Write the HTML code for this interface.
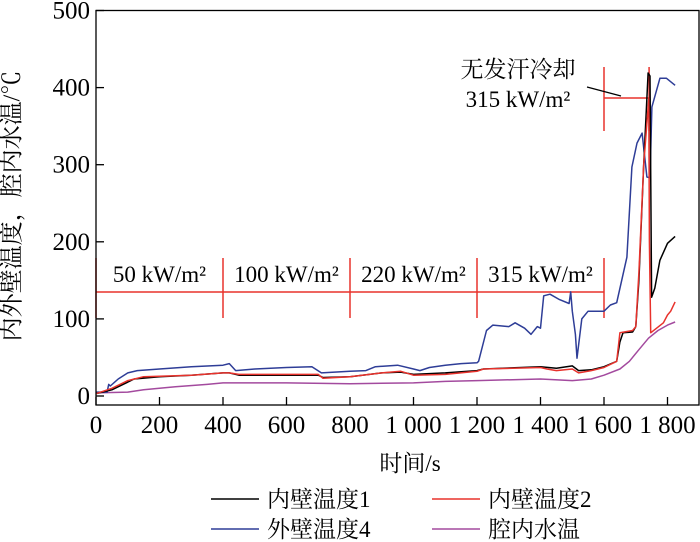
<!DOCTYPE html>
<html><head><meta charset="utf-8"><style>
html,body{margin:0;padding:0;background:#fff;}
svg{display:block;font-family:"Liberation Serif","Noto Serif CJK SC",serif;}
</style></head><body>
<svg id="chart" width="700" height="542" viewBox="0 0 700 542">
<g id="annots"></g>
<g id="series"></g>
<rect x="96" y="10.5" width="603" height="394.5" fill="none" stroke="#000" stroke-width="1.3"/>
<g id="axes"></g>
<text x="14" y="206" transform="rotate(-90 14 206)" text-anchor="middle" dominant-baseline="middle" font-size="24" font-family="'Liberation Serif','Noto Serif CJK SC',serif">内外壁温度，腔内水温/℃</text>
<text x="410" y="471" text-anchor="middle" font-size="23">时间/s</text>
<g>
<g><line x1="211" y1="499" x2="259" y2="499" stroke="#000" stroke-width="1.6"/><text x="267" y="507" font-size="23">内壁温度1</text></g>
<g><line x1="432" y1="499" x2="480" y2="499" stroke="#e8322c" stroke-width="1.6"/><text x="488" y="507" font-size="23">内壁温度2</text></g>
<g><line x1="211" y1="529" x2="259" y2="529" stroke="#2e3d97" stroke-width="1.6"/><text x="267" y="537" font-size="23">外壁温度4</text></g>
<g><line x1="432" y1="529" x2="480" y2="529" stroke="#a34a9e" stroke-width="1.6"/><text x="488" y="537" font-size="23">腔内水温</text></g>
</g>
</svg>
<script>
const xTicks=[0,200,400,600,800,1000,1200,1400,1600,1800];
const xTickLabels=["0","200","400","600","800","1 000","1 200","1 400","1 600","1 800"];
const yTicks=[0,100,200,300,400,500];
const yTickLabels=["0","100","200","300","400","500"];
const tInner1=[0,50,100,120,200,300,400,420,450,700,715,800,900,960,1000,1100,1200,1220,1400,1450,1500,1520,1560,1600,1640,1650,1660,1690,1700,1710,1725,1739,1745,1750,1760,1776,1800,1824];
const vInner1=[3,8,18,22,25,27,30,30,27,27,24,25,30,31,28,30,33,35,38,36,39,33,34,38,45,70,82,83,90,150,300,419,415,128,140,176,198,207];
const tInner2=[0,50,100,150,300,400,420,450,700,715,800,900,960,1000,1100,1200,1220,1400,1420,1450,1500,1520,1560,1600,1640,1650,1690,1700,1710,1725,1741,1743,1747,1787,1800,1810,1824];
const vInner2=[3,10,20,25,27,30,30,28,28,23,25,30,32,27,28,32,35,37,35,33,35,30,33,37,45,82,85,90,160,300,386,200,82,95,105,110,122];
const tOuter4=[0,35,40,45,70,100,130,200,300,400,420,440,500,600,680,710,800,850,880,950,1000,1020,1050,1100,1150,1200,1205,1230,1250,1300,1320,1350,1370,1390,1400,1410,1430,1460,1490,1495,1500,1510,1515,1530,1550,1600,1620,1640,1672,1688,1704,1720,1735,1745,1751,1776,1797,1824];
const vOuter4=[5,5,15,13,22,30,33,35,38,40,42,33,35,37,38,30,32,33,38,40,35,33,37,40,42,43,45,85,92,90,95,88,80,90,88,130,132,125,120,135,110,80,49,100,110,110,118,121,180,297,328,341,284,283,375,412,412,403];
const tWater=[0,100,150,250,350,400,600,800,1000,1100,1200,1400,1500,1560,1600,1650,1680,1710,1740,1770,1800,1824];
const vWater=[4,5,8,12,15,17,17,16,17,19,20,22,20,22,27,35,45,60,75,85,92,96];
const NS="http://www.w3.org/2000/svg";
function X(t){return 96+t*0.3175;}
function Y(v){return 396-v*0.771;}
function mk(tag,attrs,parent){const e=document.createElementNS(NS,tag);for(const k in attrs)e.setAttribute(k,attrs[k]);parent.appendChild(e);return e;}
const axes=document.getElementById('axes');
xTicks.forEach((t,i)=>{
  const l=mk('line',{x1:X(t),x2:X(t),y1:405,y2:397,stroke:'#000','stroke-width':1.3},axes);
  
  
  const tx=mk('text',{x:X(t),y:433,'text-anchor':'middle','font-size':25},axes);
  tx.textContent=xTickLabels[i];
  
  
});
yTicks.forEach((v,i)=>{
  const l=mk('line',{x1:96,x2:104,y1:Y(v),y2:Y(v),stroke:'#000','stroke-width':1.3},axes);
  
  
  const tx=mk('text',{x:90,y:Y(v)+8,'text-anchor':'end','font-size':25},axes);
  tx.textContent=yTickLabels[i];
  
  
});
const sg=document.getElementById('series');
function line(ts,vs,color,name){
  const d=ts.map((t,i)=>(i?'L':'M')+X(t).toFixed(1)+','+Y(vs[i]).toFixed(1)).join('');
  const p=mk('path',{d:d,fill:'none',stroke:color,'stroke-width':1.5,'stroke-linejoin':'round'},sg);
  
  
}
line(tWater,vWater,'#a34a9e','cavity-water-line');
line(tOuter4,vOuter4,'#2e3d97','outer-wall-4-line');
line(tInner1,vInner1,'#000','inner-wall-1-line');
line(tInner2,vInner2,'#e8322c','inner-wall-2-line');
const an=document.getElementById('annots');
const R='#e8322c';
const brackT=[0,400,800,1200,1600];
const brackLabels=["50 kW/m²","100 kW/m²","220 kW/m²","315 kW/m²"];
const h=mk('line',{x1:X(0),x2:X(1600),y1:292,y2:292,stroke:R,'stroke-width':1.5},an);


brackT.forEach(t=>{
  const l=mk('line',{x1:X(t),x2:X(t),y1:258,y2:318,stroke:R,'stroke-width':1.5},an);
  
  
});
brackLabels.forEach((s,i)=>{
  const tx=mk('text',{x:(X(brackT[i])+X(brackT[i+1]))/2,y:282,'text-anchor':'middle','font-size':23},an);
  tx.textContent=s;
  
  
});
const uh=mk('line',{x1:X(1600),x2:X(1742),y1:98,y2:98,stroke:R,'stroke-width':1.5},an);


[1600,1742].forEach(t=>{
  const l=mk('line',{x1:X(t),x2:X(t),y1:67,y2:131,stroke:R,'stroke-width':1.5},an);
  
  
});
const ld=mk('line',{x1:587,y1:87,x2:621,y2:96,stroke:'#000','stroke-width':1.3},an);


const t1=mk('text',{x:518,y:77,'text-anchor':'middle','font-size':23},an);
t1.textContent='无发汗冷却';


const t2=mk('text',{x:518,y:107,'text-anchor':'middle','font-size':23},an);
t2.textContent='315 kW/m²';


</script>
</body></html>
